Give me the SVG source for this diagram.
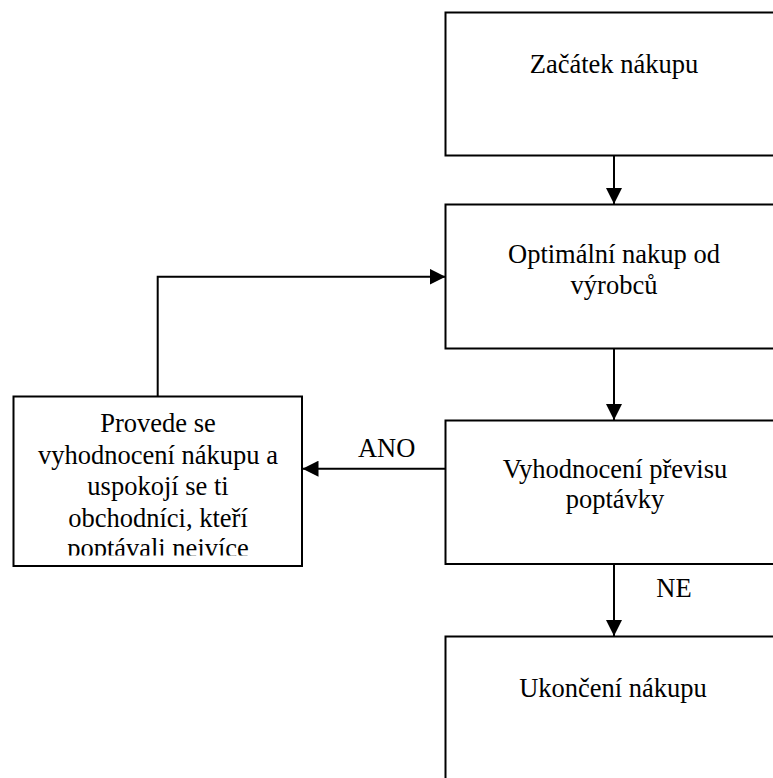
<svg xmlns="http://www.w3.org/2000/svg" width="773" height="778" viewBox="0 0 773 778">
<style>
.box{fill:#fff;stroke:#000;stroke-width:2}
.t{font-family:"Liberation Serif","Times New Roman",serif;font-size:26.5px;fill:#000;text-anchor:middle}
.c{fill:none;stroke:#000;stroke-width:2}
</style>
<defs>
<marker id="ah" markerUnits="userSpaceOnUse" markerWidth="16" markerHeight="16" viewBox="0 0 15 15" refX="15" refY="7.5" orient="auto">
<path d="M0,0 L15,7.5 L0,15 Z" fill="#000"/>
</marker>
<clipPath id="lclip"><rect x="14" y="397" width="288" height="158.5"/></clipPath>
</defs>
<rect width="773" height="778" fill="#fff"/>
<g id="n1">
<rect class="box" x="445.5" y="12.5" width="340" height="143"/>
<text class="t" x="614" y="72.7">Začátek nákupu</text>
</g>
<g id="n2">
<rect class="box" x="445.5" y="204.5" width="340" height="144"/>
<text class="t" x="614" y="263.3">Optimální nakup od</text>
<text class="t" x="614" y="293.8">výrobců</text>
</g>
<g id="n3">
<rect class="box" x="445.5" y="420.5" width="340" height="143.5"/>
<text class="t" x="615" y="478.3">Vyhodnocení převisu</text>
<text class="t" x="615" y="508.3">poptávky</text>
</g>
<g id="n4">
<rect class="box" x="445.5" y="636.5" width="340" height="160"/>
<text class="t" x="613" y="696.7">Ukončení nákupu</text>
</g>
<g id="n5">
<rect class="box" x="13.5" y="396.5" width="288.5" height="169.5"/>
<g clip-path="url(#lclip)">
<text class="t" x="158" y="431.7">Provede se</text>
<text class="t" x="158" y="463.5">vyhodnocení nákupu a</text>
<text class="t" x="158" y="495">uspokojí se ti</text>
<text class="t" x="158" y="526.5">obchodníci, kteří</text>
<text class="t" x="158" y="556.5">poptávali nejvíce</text>
</g>
</g>
<g id="connectors">
<line class="c" x1="614" y1="156" x2="614" y2="204" marker-end="url(#ah)"/>
<line class="c" x1="614" y1="349" x2="614" y2="420" marker-end="url(#ah)"/>
<line class="c" x1="614" y1="564" x2="614" y2="636" marker-end="url(#ah)"/>
<line class="c" x1="445" y1="468.7" x2="302.5" y2="468.7" marker-end="url(#ah)"/>
<polyline class="c" points="157.7,396 157.7,276.7 445.5,276.7" marker-end="url(#ah)"/>
<text class="t" x="386.7" y="456.7">ANO</text>
<text class="t" x="674" y="597">NE</text>
</g>
</svg>
